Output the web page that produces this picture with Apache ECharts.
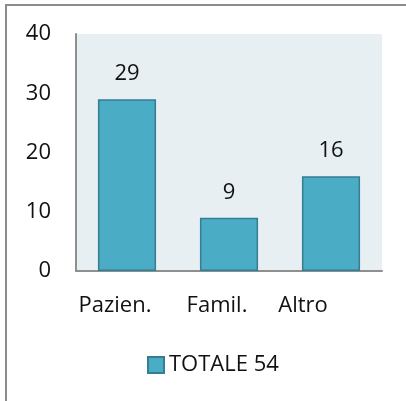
<!DOCTYPE html>
<html>
<head>
<meta charset="utf-8">
<script src="https://cdn.jsdelivr.net/npm/echarts@6/dist/echarts.min.js"></script>
<style>
html,body{margin:0;padding:0;background:#fff;}
#main{width:406px;height:401px;}
</style>
</head>
<body>
<div id="main"></div>
<script>
// dati
var categorie = ['Pazien.', 'Famil.', 'Altro'];
var valori = [29, 9, 16];
var nomeSerie = 'TOTALE 54';
var yTicks = [0, 10, 20, 30, 40];

var myChart = echarts.init(document.getElementById('main'));
var font = '"Open Sans", sans-serif';

option = {
    animation: false,
    graphic: [{
        type: 'rect',
        z: -10,
        shape: {x: 6, y: 5, width: 600, height: 600},
        style: {fill: 'none', stroke: '#8c8c8c', lineWidth: 2}
    }],
    legend: {
        data: [nomeSerie],
        icon: 'rect',
        left: 142,
        top: 349,
        itemWidth: 16,
        itemHeight: 16,
        itemGap: 6,
        textStyle: {fontFamily: font, fontSize: 22, color: '#111'}
    },
    grid: {
        left: 76,
        right: 24,
        top: 34,
        bottom: 130,
        show: true,
        backgroundColor: '#e7eff3',
        borderWidth: 0
    },
    xAxis: {
        type: 'category',
        data: categorie,
        axisLine: {lineStyle: {color: '#8f8f8f', width: 2}},
        axisTick: {show: false},
        axisLabel: {
            interval: 0,
            hideOverlap: false,
            margin: 24,
            fontFamily: font,
            fontSize: 22,
            color: '#111',
            formatter: function (v, i) {
                return '{c' + i + '|' + v + '}';
            },
            rich: {
                c0: {fontFamily: font, fontSize: 22, color: '#111', padding: [0, 24, 0, 0]},
                c1: {fontFamily: font, fontSize: 22, color: '#111', padding: [0, 24, 0, 0]},
                c2: {fontFamily: font, fontSize: 22, color: '#111', padding: [0, 56, 0, 0]}
            }
        }
    },
    yAxis: {
        type: 'value',
        min: yTicks[0],
        max: yTicks[yTicks.length - 1],
        interval: 10,
        splitLine: {show: false},
        axisLine: {show: true, lineStyle: {color: '#8f8f8f', width: 2}},
        axisTick: {show: false},
        axisLabel: {margin: 25, fontFamily: font, fontSize: 22, color: '#111'}
    },
    series: [{
        name: nomeSerie,
        type: 'bar',
        data: valori,
        barWidth: '57%',
        itemStyle: {color: '#4bacc6', borderColor: '#357d91', borderWidth: 1.5},
        label: {
            show: true,
            position: 'top',
            distance: 14,
            fontFamily: font,
            fontSize: 22,
            color: '#111'
        }
    }]
};
myChart.setOption(option);
window.onresize = myChart.resize;
</script>
</body>
</html>
